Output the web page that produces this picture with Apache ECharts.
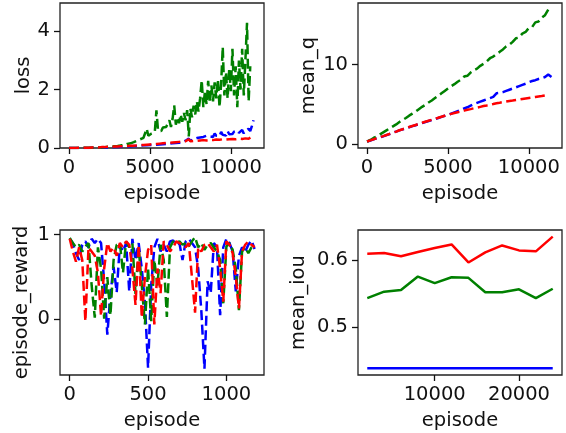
<!DOCTYPE html>
<html>
<head>
<meta charset="utf-8">
<script src="https://cdn.jsdelivr.net/npm/echarts@6/dist/echarts.min.js"></script>
<style>
html,body{margin:0;padding:0;background:#fff;}
#chart{width:566px;height:433px;}
</style>
</head>
<body>
<div id="chart"></div>
<script>
// ---------- data ----------
const lossEpisodes = [0,100,200,300,400,500,600,700,800,900,1000,1100,1200,1300,1400,1500,1600,1700,1800,1900,2000,2100,2200,2300,2400,2500,2600,2700,2800,2900,3000,3100,3200,3300,3400,3500,3600,3700,3800,3900,4000,4100,4200,4300,4400,4500,4600,4700,4800,4900,5000,5100,5200,5300,5400,5500,5600,5700,5800,5900,6000,6100,6200,6300,6400,6500,6600,6700,6800,6900,7000,7100,7200,7300,7400,7500,7600,7700,7800,7900,8000,8100,8200,8300,8400,8500,8600,8700,8800,8900,9000,9100,9200,9300,9400,9500,9600,9700,9800,9900,10000,10100,10200,10300,10400,10500,10600,10700,10800,10900,11000,11100,11200,11300,11400];

const lossBlue = [0,0,0,0,0,0,0,0,0,0,0,0,0,0.01,0.01,0.01,0.01,0.01,0.01,0.01,0.01,
  0.01,0.02,0.02,0.02,0.02,0.02,0.03,0.03,0.03,0.03,
  0.04,0.04,0.04,0.05,0.05,0.05,0.06,0.06,0.06,0.07,
  0.07,0.07,0.08,0.08,0.08,0.09,0.09,0.09,0.10,0.10,
  0.11,0.10,0.12,0.11,0.13,0.12,0.14,0.13,0.15,0.14,
  0.16,0.15,0.17,0.16,0.18,0.17,0.19,0.18,0.20,0.19,
  0.21,0.25,0.20,0.32,0.24,0.27,0.30,0.26,0.34,0.30,
  0.36,0.32,0.38,0.34,0.42,0.36,0.40,0.45,0.38,0.50,
  0.42,0.48,0.40,0.55,0.45,0.50,0.43,0.58,0.47,0.52,
  0.48,0.56,0.50,0.60,0.52,0.55,0.62,0.50,0.58,0.54,
  0.66,0.58,0.75,0.95];

const lossGreen = [0,0,0,0,0,0,0,0,0,0,0.01,0.01,0.01,0.01,0.01,0.01,0.02,0.02,0.02,0.02,0.02,
  0.03,0.03,0.03,0.04,0.04,0.05,0.05,0.06,0.06,0.07,
  0.08,0.09,0.10,0.09,0.12,0.14,0.13,0.16,0.18,0.20,
  0.22,0.25,0.28,0.30,0.26,0.35,0.38,0.66,0.42,0.45,
  0.50,0.48,0.55,1.29,0.60,0.62,0.58,0.70,0.75,0.72,
  0.70,0.95,0.72,1.00,1.46,0.80,1.05,0.85,1.15,0.90,
  1.20,0.95,1.30,0.40,1.35,1.05,1.45,1.15,1.60,1.25,
  1.70,2.32,1.40,1.95,1.50,2.30,1.55,2.15,1.60,2.25,
  1.70,2.35,1.40,2.20,3.46,1.80,2.60,1.70,2.70,1.95,
  3.40,1.80,2.80,1.40,3.00,2.00,3.40,1.80,3.00,4.29,
  1.60,2.80];

const lossRed = [0,0,0,0,0,0.01,0.01,0.01,0.01,0.01,0.01,0.01,0.01,0.01,0.02,0.02,0.02,0.02,0.02,0.02,0.03,
  0.03,0.03,0.03,0.04,0.04,0.04,0.04,0.05,0.05,0.05,
  0.05,0.06,0.06,0.06,0.07,0.07,0.07,0.08,0.08,0.08,
  0.09,0.09,0.09,0.10,0.10,0.10,0.11,0.11,0.11,0.12,
  0.12,0.13,0.12,0.14,0.13,0.15,0.14,0.16,0.15,0.17,
  0.16,0.18,0.17,0.19,0.18,0.20,0.19,0.21,0.20,0.22,
  0.21,0.23,0.22,0.30,0.23,0.25,0.24,0.26,0.25,0.27,
  0.26,0.28,0.27,0.29,0.26,0.30,0.28,0.31,0.27,0.32,
  0.29,0.31,0.28,0.33,0.30,0.32,0.29,0.34,0.30,0.33,
  0.31,0.35,0.30,0.34,0.32,0.36,0.31,0.35,0.33,0.37,
  0.32,0.38,0.40];

const meanqEpisodes = [0,200,400,600,800,1000,1200,1400,1600,1800,2000,2200,2400,2600,2800,3000,3200,3400,3600,3800,4000,4200,4400,4600,4800,5000,5200,5400,5600,5800,6000,6200,6400,6600,6800,7000,7200,7400,7600,7800,8000,8200,8400,8600,8800,9000,9200,9400,9600,9800,10000,10200,10400,10600,10800,11000,11200,11400];

const meanqBlue = [0.35,0.48,0.62,0.75,0.88,1.0,1.15,1.3,1.45,1.6,1.75,1.88,2.0,2.15,2.28,2.4,2.53,2.66,2.8,2.92,3.05,3.18,3.3,3.45,3.58,3.7,3.85,4.0,4.15,4.3,4.5,4.65,4.85,5.05,5.2,5.35,5.5,5.65,5.8,5.95,6.4,6.45,6.55,6.7,6.85,7.0,7.15,7.3,7.45,7.6,7.8,7.95,8.05,8.2,8.3,8.45,8.75,8.45];

const meanqGreen = [0.35,0.55,0.8,1.0,1.25,1.5,1.75,2.0,2.25,2.5,2.8,3.05,3.3,3.6,3.85,4.1,4.4,4.7,4.95,5.25,5.5,5.8,6.1,6.4,6.7,7.0,7.3,7.55,7.85,8.1,8.5,8.6,9.0,9.3,9.5,9.85,10.1,10.4,10.8,11.0,11.35,11.6,11.9,12.3,12.5,12.85,13.3,13.4,13.9,14.1,14.6,14.7,15.3,15.4,15.9,16.2,16.9];

const meanqRed = [0.35,0.5,0.63,0.77,0.9,1.03,1.17,1.31,1.45,1.6,1.77,1.9,2.03,2.17,2.3,2.43,2.56,2.7,2.83,2.96,3.08,3.2,3.33,3.46,3.58,3.7,3.82,3.93,4.03,4.13,4.23,4.33,4.42,4.52,4.6,4.7,4.8,4.88,4.97,5.05,5.15,5.22,5.3,5.37,5.44,5.5,5.57,5.63,5.7,5.76,5.82,5.88,5.94,6.0,6.05,6.12,6.2];

const rewardEpisodes = [0,20,40,60,80,100,120,140,160,180,200,220,240,260,280,300,320,340,360,380,400,420,440,460,480,500,520,540,560,580,600,620,640,660,680,700,720,740,760,780,800,820,840,860,880,900,920,940,960,980,1000,1020,1040,1060,1080,1100,1120,1140,1160,1180];

const rewardBlue = [0.95,0.90,0.78,0.70,0.88,0.92,0.85,0.95,0.90,0.95,
  0.90,0.45,-0.18,0.30,0.62,0.32,0.88,0.80,0.90,0.33,
  0.95,0.70,0.90,0.60,0.20,-0.57,0.40,0.85,0.95,0.80,
  0.88,0.80,0.92,0.93,0.88,0.90,0.70,0.92,0.95,0.90,
  0.85,0.60,0.10,-0.58,0.45,0.31,0.90,0.85,0.05,0.85,
  0.95,0.90,0.80,0.33,0.75,0.85,0.80,0.88,0.93,0.83];

const rewardGreen = [0.96,0.90,0.85,0.88,0.80,0.86,0.90,0.40,0.02,0.85,
  0.60,0.01,0.50,0.05,0.70,0.88,0.90,0.55,0.92,0.85,
  0.90,0.30,0.85,0.40,-0.06,0.60,-0.02,0.70,0.40,0.88,
  0.70,0.03,0.85,0.92,0.90,0.92,0.88,0.90,0.86,0.92,
  0.97,0.85,0.90,0.82,0.88,0.90,0.85,0.80,0.70,0.19,
  0.86,0.90,0.82,0.60,0.11,0.80,0.85,0.78,0.85,0.83];

const rewardRed = [0.95,0.80,0.68,0.85,0.70,-0.02,0.85,0.80,0.75,0.55,
  0.04,0.60,0.90,0.80,0.85,0.75,0.90,0.85,0.92,0.88,
  0.60,0.17,0.88,0.02,0.50,0.82,0.88,-0.06,0.60,0.31,
  0.92,0.88,0.80,0.85,0.92,0.90,0.88,0.85,0.90,0.50,
  0.08,0.85,0.80,0.88,0.90,0.85,0.80,0.88,0.60,0.21,
  0.92,0.88,0.78,0.50,0.13,0.80,0.88,0.92,0.88,0.85];

const iouEpisodes = [2000,4000,6000,8000,10000,12000,14000,16000,18000,20000,22000,24000];
const iouBlue  = [0.4394,0.4394,0.4394,0.4394,0.4394,0.4394,0.4394,0.4394,0.4394,0.4394,0.4394,0.4394];
const iouGreen = [0.5433,0.5530,0.5554,0.5753,0.5656,0.5743,0.5734,0.5520,0.5520,0.5564,0.5433,0.5573];
const iouRed   = [0.6093,0.6102,0.6054,0.6117,0.6175,0.6229,0.5962,0.6112,0.6214,0.6141,0.6127,0.6345];

const lossXTicks = [0,5000,10000];
const lossYTicks = [0,2,4];
const meanqXTicks = [0,5000,10000];
const meanqYTicks = [0,10];
const rewardXTicks = [0,500,1000];
const rewardYTicks = [0,1];
const iouXTicks = [10000,20000];
const iouYTicks = [0.5,0.6];

// ---------- chart ----------
const FONT = 'DejaVu Sans';
const FS = 19.5;
const TXT = '#111';
const BLUE = '#0000ff', GREEN = '#008000', RED = '#ff0000';

function pairs(xs, ys){ return ys.map((y,i)=>[xs[i], y]); }
const plain = v => String(v);

function xAx(gi, min, max, ticks){
  return {
    gridIndex: gi, type:'value', min:min, max:max,
    name:'episode', nameLocation:'middle', nameGap:36,
    nameTextStyle:{fontFamily:FONT, fontSize:FS, color:TXT},
    axisLine:{show:false, onZero:false},
    axisTick:{show:true, inside:false, length:6, customValues:ticks, lineStyle:{color:'#111', width:1.3}},
    axisLabel:{customValues:ticks, margin:10, formatter:plain, fontFamily:FONT, fontSize:FS, color:TXT},
    splitLine:{show:false}
  };
}
function yAx(gi, min, max, ticks, name, gap){
  return {
    gridIndex: gi, type:'value', min:min, max:max,
    name:name, nameLocation:'middle', nameGap:gap,
    nameTextStyle:{fontFamily:FONT, fontSize:FS, color:TXT},
    axisLine:{show:false, onZero:false},
    axisTick:{show:true, inside:false, length:6, customValues:ticks, lineStyle:{color:'#111', width:1.3}},
    axisLabel:{customValues:ticks, margin:10, formatter:plain, fontFamily:FONT, fontSize:FS, color:TXT},
    splitLine:{show:false}
  };
}
function ln(gi, xs, ys, color, dashed){
  return {
    type:'line', xAxisIndex:gi, yAxisIndex:gi, data:pairs(xs, ys),
    showSymbol:false, symbol:'none', silent:true,
    lineStyle:{color:color, width:2.5, type: dashed ? [10,4.5] : 'solid'}
  };
}

const grid = (l,t)=>({left:l, top:t, width:204, height:145, show:true, borderColor:'#222', borderWidth:1.3, backgroundColor:'#fff'});

const option = {
  animation:false,
  backgroundColor:'#fff',
  grid:[grid(60,3), grid(358,3), grid(60,230), grid(358,230)],
  xAxis:[
    xAx(0, -560, 12050, lossXTicks),
    xAx(1, -560, 12050, meanqXTicks),
    xAx(2, -62, 1240, rewardXTicks),
    xAx(3, 900, 25100, iouXTicks)
  ],
  yAxis:[
    yAx(0, 0, 4.97, lossYTicks, 'loss', 25),
    yAx(1, -0.46, 17.73, meanqYTicks, 'mean_q', 37),
    yAx(2, -0.655, 1.054, rewardYTicks, 'episode_reward', 28),
    yAx(3, 0.4295, 0.6443, iouYTicks, 'mean_iou', 49)
  ],
  series:[
    ln(0, lossEpisodes, lossBlue, BLUE, true),
    ln(0, lossEpisodes, lossGreen, GREEN, true),
    ln(0, lossEpisodes, lossRed, RED, true),
    ln(1, meanqEpisodes, meanqBlue, BLUE, true),
    ln(1, meanqEpisodes, meanqGreen, GREEN, true),
    ln(1, meanqEpisodes, meanqRed, RED, true),
    ln(2, rewardEpisodes, rewardBlue, BLUE, true),
    ln(2, rewardEpisodes, rewardGreen, GREEN, true),
    ln(2, rewardEpisodes, rewardRed, RED, true),
    ln(3, iouEpisodes, iouBlue, BLUE, false),
    ln(3, iouEpisodes, iouGreen, GREEN, false),
    ln(3, iouEpisodes, iouRed, RED, false)
  ]
};

const chart = echarts.init(document.getElementById('chart'), null, {renderer:'canvas'});
chart.setOption(option);
</script>
</body>
</html>
